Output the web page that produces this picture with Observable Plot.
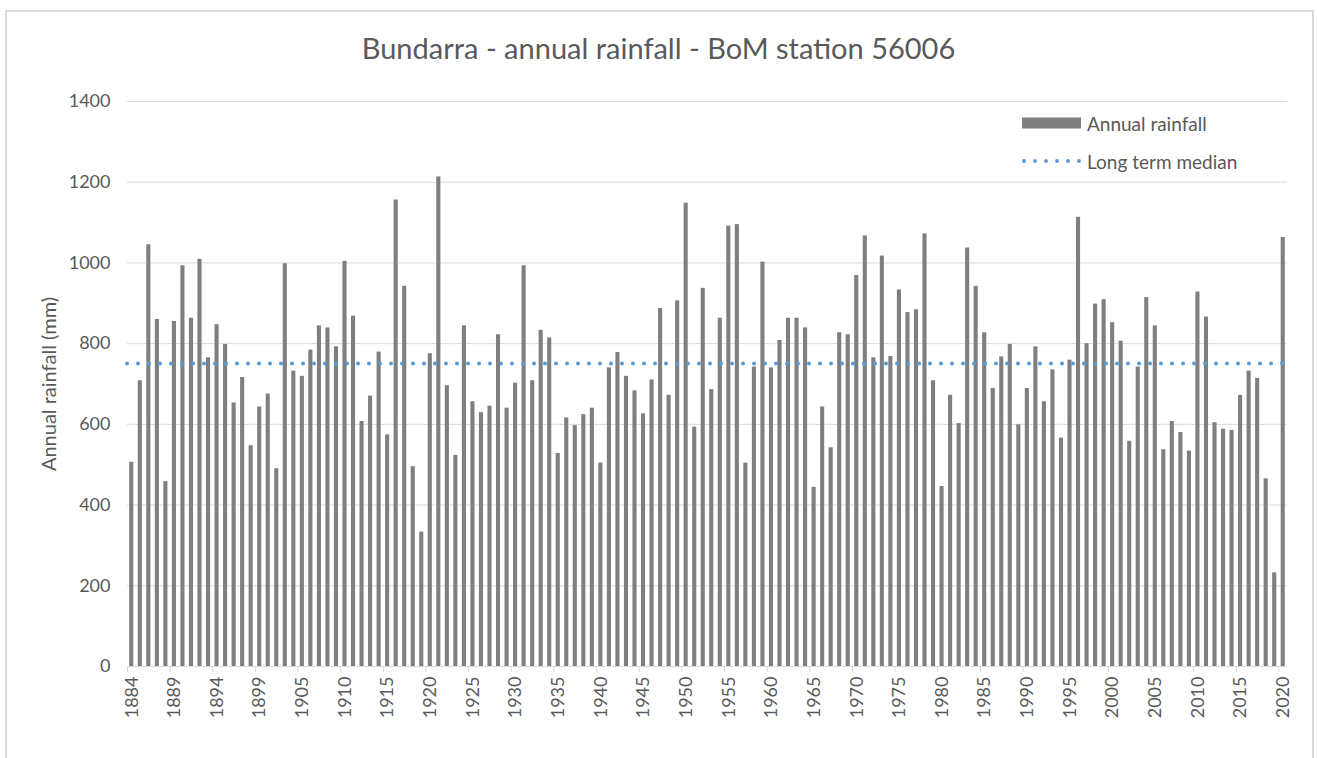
<!DOCTYPE html>
<html>
<head>
<meta charset="utf-8">
<script src="https://cdn.jsdelivr.net/npm/d3@7"></script>
<script src="https://cdn.jsdelivr.net/npm/@observablehq/plot@0.6"></script>
<style>
  body { margin: 0; background: #fff; font-family: Lato, "Open Sans", sans-serif; }
  #frame { position: absolute; left: 5px; top: 10px; width: 1309px; height: 780px; border: 2px solid #d9d9d9; box-sizing: border-box; }
  #wrap { position: absolute; left: 0; top: 0; width: 1317px; }
  #title { height: 80px; box-sizing: border-box; padding-top: 32px; line-height: 32px; text-align: center; font-size: 29px; color: #595959; }
  #legend { position: absolute; left: 1022px; top: 111px; font-size: 19px; color: #595959; }
  .row { display: flex; align-items: center; height: 24px; }
  .row + .row { margin-top: 14px; }
  .row span { margin-left: 6px; }
  svg.plot { display: block; }
</style>
</head>
<body>
<div id="frame"></div>
<div id="wrap">
  <div id="title">Bundarra - annual rainfall - BoM station 56006</div>
  <div id="chart"></div>
  <div id="legend">
    <div class="row"><svg width="59" height="12"><rect x="0" y="0.5" width="59" height="11" fill="#7f7f7f"></rect></svg><span>Annual rainfall</span></div>
    <div class="row"><svg width="59" height="12"><line x1="2" x2="58" y1="6" y2="6" stroke="#5b9bd5" stroke-width="4" stroke-linecap="round" stroke-dasharray="0 11"></line></svg><span>Long term median</span></div>
  </div>
</div>
<script>
const years = [
  "1884","1885","1886","1887","1888","1889","1890","1891","1892","1893","1894","1895","1896","1897","1898","1899",
  "1900","1901","1902","1903",
  "1905","1906","1907","1908","1909","1910","1911","1912","1913","1914","1915","1916","1917","1918",
  "1919","1920","1921","1922","1923","1924","1925","1926","1927","1928","1929","1930","1931","1932","1933","1934",
  "1935","1936","1937","1938","1939","1940","1941","1942","1943","1944","1945","1946","1947","1948","1949","1950","1951","1952",
  "1953","1954","1955","1956","1957","1958","1959","1960","1961","1962","1963","1964","1965","1966","1967","1968",
  "1969","1970","1971","1972","1973","1974","1975","1976","1977","1978","1979","1980","1981","1982","1983","1984","1985","1986",
  "1987","1988","1989","1990","1991","1992","1993","1994","1995","1996","1997","1998","1999","2000","2001","2002",
  "2003","2004","2005","2006","2007","2008","2009","2010","2011","2012","2013","2014","2015","2016","2017","2018","2019","2020"
];
const rainfall = [
  506,708,1045,860,458,855,993,863,1009,765,847,798,653,716,547,643,
  675,490,998,732,
  719,784,844,839,792,1004,868,607,670,779,574,1156,942,495,
  333,775,1213,696,523,844,656,629,645,822,640,702,993,708,833,814,
  528,616,597,624,640,504,740,778,719,683,626,710,887,672,906,1148,593,937,
  686,863,1091,1095,504,742,1002,740,808,863,863,839,444,643,542,827,
  822,969,1067,765,1017,768,933,877,884,1072,708,446,672,602,1037,942,827,689,
  767,798,599,689,792,656,735,566,759,1113,800,898,909,852,806,558,
  742,914,844,537,607,580,534,928,866,604,588,585,672,732,714,465,232,1063
];
const median = 751;
const yTicks = [0, 200, 400, 600, 800, 1000, 1200, 1400];
const xTickLabels = ["1884","1889","1894","1899","1905","1910","1915","1920","1925","1930","1935","1940","1945","1950",
  "1955","1960","1965","1970","1975","1980","1985","1990","1995","2000","2005","2010","2015","2020"];

const data = years.map((year, i) => ({year, rain: rainfall[i]}));

const W = 1317, H = 678;
const mL = 127, mR = 30, mT = 21, mB = 92;
const step = (W - mL - mR) / years.length;
const textColor = "#595959";
const gridColor = "#d9d9d9";

const chart = Plot.plot({
  width: W,
  height: H,
  marginLeft: mL,
  marginRight: mR,
  marginTop: mT,
  marginBottom: mB,
  style: { fontFamily: "Lato, 'Open Sans', sans-serif", fontSize: "18px", color: textColor, background: "transparent", overflow: "visible" },
  x: { type: "band", domain: years, paddingInner: 0.52, paddingOuter: 0.26, align: 0.5 },
  y: { domain: [0, 1400] },
  marks: [
    Plot.gridY(yTicks.filter(d => d > 0), { stroke: gridColor, strokeOpacity: 1, strokeWidth: 1 }),
    Plot.barY(data, { x: "year", y: "rain", fill: "#7f7f7f" }),
    Plot.ruleY([0], { stroke: gridColor, strokeWidth: 1 }),
    Plot.ruleX(xTickLabels, { x: d => d, y1: 0, y2: 0, insetBottom: -6, dx: -step / 2, stroke: gridColor, strokeWidth: 1 }),
    Plot.ruleY([median], { stroke: "#5b9bd5", strokeWidth: 4, strokeDasharray: "0 11", strokeLinecap: "round" }),
    Plot.axisY(yTicks, { tickSize: 0, tickPadding: 17, label: null, tickFormat: d => String(d), fill: textColor, fontSize: 18 }),
    Plot.axisX(xTickLabels, { tickSize: 0, tickPadding: 10, tickRotate: -90, label: null, fill: textColor, fontSize: 18 }),
    Plot.text(["Annual rainfall (mm)"], { frameAnchor: "left", dx: -78, rotate: -90, textAnchor: "middle", fill: textColor, fontSize: 20 })
  ]
});
document.getElementById("chart").appendChild(chart);
</script>
</body>
</html>
